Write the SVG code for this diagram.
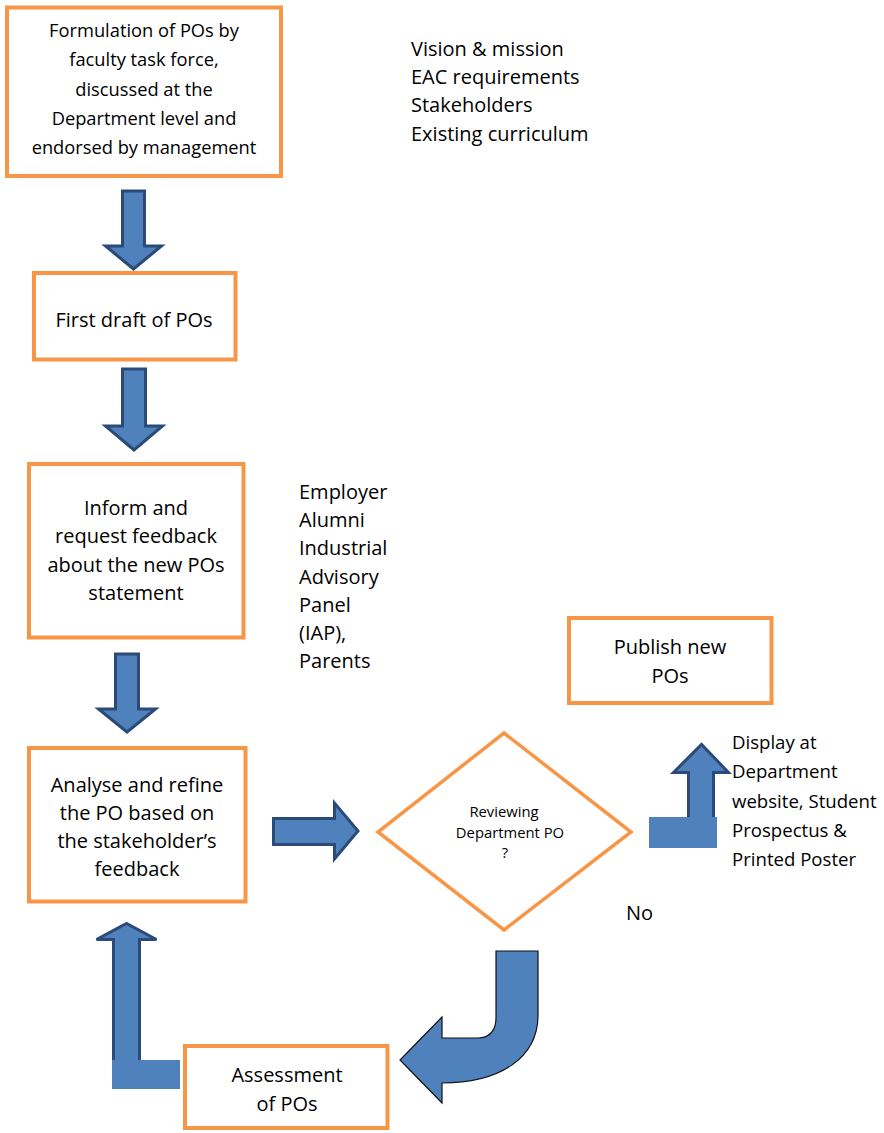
<svg xmlns="http://www.w3.org/2000/svg" width="884" height="1133" viewBox="0 0 884 1133">
<style>
.box{fill:#fff;stroke:#F79646;stroke-width:4}
.dia{fill:#fff;stroke:#F79646;stroke-width:3.5}
.t{font-family:"Open Sans","Liberation Sans",sans-serif;font-size:20px;fill:#000}
.t1{font-size:18.3px}
.t2{font-size:18.6px}
.c{text-anchor:middle}
.s{font-family:"Open Sans","Liberation Sans",sans-serif;font-size:14.8px;fill:#000;text-anchor:middle}
.ar{fill:#4F81BD;stroke:#2C4A77;stroke-width:3;stroke-linejoin:miter}
.bar{fill:#4F81BD;stroke:none}
.cur{fill:#4F81BD;stroke:#111;stroke-width:1.2}
</style>
<rect width="884" height="1133" fill="#fff"/>
<g id="connectors">
<polygon class="ar" points="122.5,191 144.5,191 144.5,246 161.5,246 133.5,269 105.5,246 122.5,246"/>
<polygon class="ar" points="122.5,369 145.5,369 145.5,426 162.5,426 134,450 105.5,426 122.5,426"/>
<polygon class="ar" points="115.5,654 138.5,654 138.5,709 155.5,709 127,732 98.5,709 115.5,709"/>
<polygon class="ar" points="273.5,818.5 334.5,818.5 334.5,803 358,831 334.5,859 334.5,844.5 273.5,844.5"/>
<polygon class="ar" points="113.5,1062 113.5,939.5 96.5,939.5 126.5,923.5 156.5,939.5 139.5,939.5 139.5,1062"/>
<rect class="bar" x="112" y="1060" width="68" height="29"/>
<polygon class="ar" points="688.5,820 688.5,772.5 673.5,772.5 701.5,744.5 728.5,772.5 713.5,772.5 713.5,820"/>
<rect class="bar" x="649" y="817" width="68" height="31"/>
<path class="cur" d="M496,951 L538,951 L538,1015 C538,1058 500,1083 442,1083 L442,1103 L400,1060 L442,1017 L442,1038 L478,1038 C490,1038 496,1030 496,1018 Z"/>
</g>
<g id="n1">
<rect class="box" x="7" y="7.5" width="274" height="168.5"/>
<text class="t t1 c" x="144" y="37">Formulation of POs by</text>
<text class="t t1 c" x="144" y="66">faculty task force,</text>
<text class="t t1 c" x="144" y="96">discussed at the</text>
<text class="t t1 c" x="144" y="125">Department level and</text>
<text class="t t1 c" x="144" y="154">endorsed by management</text>
</g>
<g id="inputs1">
<text class="t" x="411" y="56">Vision &amp; mission</text>
<text class="t" x="411" y="84">EAC requirements</text>
<text class="t" x="411" y="112">Stakeholders</text>
<text class="t" x="411" y="141">Existing curriculum</text>
</g>
<g id="n2">
<rect class="box" x="34" y="273" width="201.5" height="86.5"/>
<text class="t c" x="134" y="327">First draft of POs</text>
</g>
<g id="n3">
<rect class="box" x="29" y="464" width="214.5" height="173.5"/>
<text class="t c" x="136" y="515">Inform and</text>
<text class="t c" x="136" y="543">request feedback</text>
<text class="t c" x="136" y="572">about the new POs</text>
<text class="t c" x="136" y="600">statement</text>
</g>
<g id="inputs2">
<text class="t" x="299" y="499">Employer</text>
<text class="t" x="299" y="527">Alumni</text>
<text class="t" x="299" y="555">Industrial</text>
<text class="t" x="299" y="584">Advisory</text>
<text class="t" x="299" y="612">Panel</text>
<text class="t" x="299" y="640">(IAP),</text>
<text class="t" x="299" y="668">Parents</text>
</g>
<g id="n4">
<rect class="box" x="29" y="748" width="216.5" height="153.5"/>
<text class="t c" x="137" y="792">Analyse and refine</text>
<text class="t c" x="137" y="820">the PO based on</text>
<text class="t c" x="137" y="848">the stakeholder’s</text>
<text class="t c" x="137" y="876">feedback</text>
</g>
<g id="decision">
<polygon class="dia" points="504,733 631,832 504,930 378,832"/>
<text class="s" x="504" y="817">Reviewing</text>
<text class="s" x="510" y="838">Department PO</text>
<text class="s" x="505" y="858">?</text>
</g>
<g id="n5">
<rect class="box" x="569" y="618" width="202.5" height="85"/>
<text class="t c" x="670" y="654">Publish new</text>
<text class="t c" x="670" y="683">POs</text>
</g>
<g id="display">
<text class="t t2" x="732" y="749">Display at</text>
<text class="t t2" x="732" y="778">Department</text>
<text class="t t2" x="732" y="808">website, Student</text>
<text class="t t2" x="732" y="837">Prospectus &amp;</text>
<text class="t t2" x="732" y="866">Printed Poster</text>
</g>
<g id="no">
<text class="t" x="626" y="920">No</text>
</g>
<g id="n6">
<rect class="box" x="185" y="1046" width="202.5" height="82"/>
<text class="t c" x="287" y="1082">Assessment</text>
<text class="t c" x="287" y="1111">of POs</text>
</g>
</svg>
